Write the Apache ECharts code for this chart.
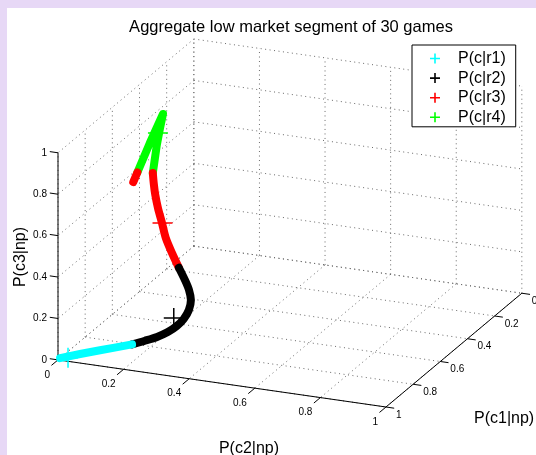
<!DOCTYPE html>
<html>
<head>
<meta charset="utf-8">
<script src="https://cdn.jsdelivr.net/npm/echarts@6/dist/echarts.min.js"></script>
<style>
  html, body { margin: 0; padding: 0; background: #e7d8f6; }
  #chart { width: 536px; height: 455px; }
</style>
</head>
<body>
<div id="chart"></div>
<script>
// Tick values shared by the three probability axes
const tickValues = [0, 0.2, 0.4, 0.6, 0.8, 1];
const tickLabels = ['0', '0.2', '0.4', '0.6', '0.8', '1'];

// Trajectory points as [P(c1|np), P(c2|np), P(c3|np)], split by region
const pathR1 = [
  [0.992, 0.003, 0.005], [0.946, 0.045, 0.009], [0.901, 0.087, 0.012],
  [0.865, 0.121, 0.014], [0.829, 0.155, 0.016]
];
const pathR2 = [
  [0.829, 0.155, 0.016], [0.797, 0.181, 0.022], [0.766, 0.205, 0.029],
  [0.735, 0.225, 0.040], [0.704, 0.240, 0.056], [0.675, 0.249, 0.076],
  [0.645, 0.252, 0.103], [0.618, 0.247, 0.135], [0.598, 0.233, 0.169],
  [0.582, 0.214, 0.204], [0.564, 0.188, 0.248]
];
const pathR3 = [
  [0.564, 0.188, 0.248], [0.542, 0.158, 0.300], [0.518, 0.129, 0.353],
  [0.490, 0.106, 0.404], [0.462, 0.082, 0.456], [0.436, 0.063, 0.501],
  [0.413, 0.049, 0.538], [0.389, 0.036, 0.575]
];
const pathR4 = [
  [0.389, 0.036, 0.575], [0.316, 0.018, 0.666], [0.271, 0.009, 0.720],
  [0.232, 0.002, 0.766], [0.324, 0.000, 0.676], [0.416, 0.000, 0.584]
];
const pathR3Tail = [
  [0.416, 0.000, 0.584], [0.446, 0.000, 0.554]
];

// Region centres, drawn as '+' markers
const centroids = [
  [0.977, 0.021, 0.002],
  [0.691, 0.225, 0.084],
  [0.489, 0.107, 0.405],
  [0.286, 0.009, 0.705]
];

const seriesNames = ['P(c|r1)', 'P(c|r2)', 'P(c|r3)', 'P(c|r4)'];
const seriesColors = ['#00ffff', '#000000', '#ff0000', '#00ff00'];

// Orthographic view of the unit cube
const AZ = 22.5 * Math.PI / 180;
const EL = 20.3 * Math.PI / 180;
const Z_ASPECT = 0.622;
const PX_PER_UNIT = 355;
const FONT = '"Liberation Sans", Arial, Helvetica, sans-serif';

function project(p) {
  const c1 = p[0], c2 = p[1], c3 = p[2];
  const x = c2 * Math.cos(AZ) - c1 * Math.sin(AZ);
  const y = -(c2 * Math.sin(AZ) + c1 * Math.cos(AZ)) * Math.sin(EL) + c3 * Z_ASPECT * Math.cos(EL);
  return [x, y];
}

// Extent of the projected box
const corners = [];
[0, 1].forEach(a => [0, 1].forEach(b => [0, 1].forEach(c => corners.push(project([a, b, c])))));
const xMin = Math.min(...corners.map(p => p[0])), xMax = Math.max(...corners.map(p => p[0]));
const yMin = Math.min(...corners.map(p => p[1])), yMax = Math.max(...corners.map(p => p[1]));

function seg(a, b) { return project(a).concat(project(b)); }

// Dotted grid on the three back planes
const gridSegs = [];
tickValues.forEach(t => {
  gridSegs.push(seg([0, t, 0], [0, t, 1]));  // back wall, vertical
  gridSegs.push(seg([0, 0, t], [0, 1, t]));  // back wall, level
  gridSegs.push(seg([t, 0, 0], [t, 0, 1]));  // side wall, vertical
  gridSegs.push(seg([0, 0, t], [1, 0, t]));  // side wall, level
  gridSegs.push(seg([t, 0, 0], [t, 1, 0]));  // floor, along c2
  gridSegs.push(seg([0, t, 0], [1, t, 0]));  // floor, along c1
});

// Solid axis lines with tick marks
const axisSegs = [
  seg([1, 0, 0], [1, 0, 1]),
  seg([1, 0, 0], [1, 1, 0]),
  seg([0, 1, 0], [1, 1, 0])
];
tickValues.forEach(t => {
  axisSegs.push(seg([1, 0, t], [1, -0.025, t]));
  axisSegs.push(seg([1, t, 0], [1.048, t, 0]));
  axisSegs.push(seg([t, 1, 0], [t, 1.025, 0]));
});

// Tick label anchors, with [text, dx, dy, align] alongside
const tickText = [];
const tickTextMeta = [];
tickValues.forEach((t, i) => {
  tickText.push(project([1, 0, t])); tickTextMeta.push([tickLabels[i], -11, 0, 'right']);
  tickText.push(project([1, t, 0])); tickTextMeta.push([tickLabels[i], -8, 15, 'right']);
  tickText.push(project([t, 1, 0])); tickTextMeta.push([tickLabels[i], 10, 8, 'left']);
});

const plusPath = 'path://M0,9.25H20V10.75H0Z M9.25,0H10.75V20H9.25Z';
const legendPlus = 'path://M0,4.2H10V5.8H0Z M4.2,0H5.8V10H4.2Z';

const chart = echarts.init(document.getElementById('chart'), null, { renderer: 'canvas' });

function lineSeries(name, color, pts, z, smooth) {
  return {
    type: 'line', name: name, data: pts.map(project), z: z,
    symbol: 'none', showSymbol: false, smooth: smooth, silent: true,
    itemStyle: { color: color },
    lineStyle: { color: color, width: 8, cap: 'round', join: 'round' },
    animation: false
  };
}

const series = [
  {
    type: 'custom', name: 'grid', silent: true, z: 1, animation: false,
    data: gridSegs,
    renderItem: (params, api) => {
      const a = api.coord([api.value(0), api.value(1)]);
      const b = api.coord([api.value(2), api.value(3)]);
      return { type: 'line', shape: { x1: a[0], y1: a[1], x2: b[0], y2: b[1] },
        style: { stroke: '#6a6a6a', lineWidth: 1, lineDash: [1, 3.5] } };
    }
  },
  {
    type: 'custom', name: 'axes', silent: true, z: 2, animation: false,
    data: axisSegs,
    renderItem: (params, api) => {
      const a = api.coord([api.value(0), api.value(1)]);
      const b = api.coord([api.value(2), api.value(3)]);
      return { type: 'line', shape: { x1: a[0], y1: a[1], x2: b[0], y2: b[1] },
        style: { stroke: '#000', lineWidth: 1 } };
    }
  },
  {
    type: 'custom', name: 'ticks', silent: true, z: 2, animation: false,
    data: tickText,
    renderItem: (params, api) => {
      const p = api.coord([api.value(0), api.value(1)]);
      const m = tickTextMeta[params.dataIndex];
      return { type: 'text', x: p[0] + m[1], y: p[1] + m[2],
        style: { text: m[0], fill: '#000', fontSize: 10, fontFamily: FONT,
          align: m[3], verticalAlign: 'middle' } };
    }
  }
];

centroids.forEach((c, i) => {
  series.push({
    type: 'scatter', name: seriesNames[i], data: [project(c)], z: 3,
    symbol: plusPath, symbolSize: 20, silent: true, animation: false,
    itemStyle: { color: seriesColors[i], opacity: 1 }
  });
});

series.push(lineSeries(seriesNames[3], seriesColors[3], pathR4, 4, false));
series.push(lineSeries(seriesNames[2], seriesColors[2], pathR3, 5, 0.3));
series.push(lineSeries(seriesNames[2], seriesColors[2], pathR3Tail, 5, false));
series.push(lineSeries(seriesNames[1], seriesColors[1], pathR2, 6, 0.3));
series.push(lineSeries(seriesNames[0], seriesColors[0], pathR1, 7, false));

const gridLeft = 58, gridTop = 39;

chart.setOption({
  animation: false,
  backgroundColor: '#e7d8f6',
  grid: {
    left: gridLeft, top: gridTop,
    width: (xMax - xMin) * PX_PER_UNIT,
    height: (yMax - yMin) * PX_PER_UNIT
  },
  xAxis: { type: 'value', min: xMin, max: xMax, show: false },
  yAxis: { type: 'value', min: yMin, max: yMax, show: false },
  legend: {
    left: 412, top: 45, orient: 'vertical', selectedMode: false,
    padding: [4, 10, 0, 18], itemGap: 0.6, itemWidth: 36, itemHeight: 10,
    backgroundColor: '#fff', borderColor: '#000', borderWidth: 1, borderRadius: 0,
    textStyle: { fontSize: 16, lineHeight: 19, fontFamily: FONT, color: '#000' },
    data: seriesNames.map(n => ({ name: n, icon: legendPlus }))
  },
  graphic: [
    { type: 'rect', z: -10, shape: { x: 7, y: 8, width: 529, height: 447 }, style: { fill: '#ffffff' }, silent: true },
    { type: 'text', x: 291, y: 27, silent: true,
      style: { text: 'Aggregate low market segment of 30 games', fill: '#000', fontSize: 16.5, fontFamily: FONT, align: 'center', verticalAlign: 'middle' } },
    { type: 'text', x: 249, y: 449, silent: true,
      style: { text: 'P(c2|np)', fill: '#000', fontSize: 16, fontFamily: FONT, align: 'center', verticalAlign: 'middle' } },
    { type: 'text', x: 474, y: 419, silent: true,
      style: { text: 'P(c1|np)', fill: '#000', fontSize: 16, fontFamily: FONT, align: 'left', verticalAlign: 'middle' } },
    { type: 'text', x: 21, y: 257, rotation: Math.PI / 2, silent: true,
      style: { text: 'P(c3|np)', fill: '#000', fontSize: 16, fontFamily: FONT, align: 'center', verticalAlign: 'middle' } }
  ],
  series: series
});
</script>
</body>
</html>
